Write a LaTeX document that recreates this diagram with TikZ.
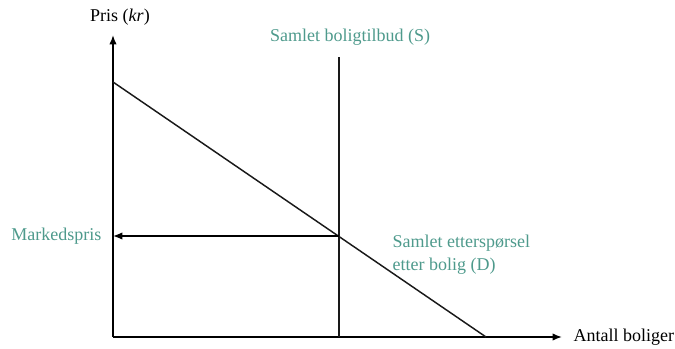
\documentclass[tikz,border=0pt]{standalone}
\usepackage{fontspec}
\setmainfont{Liberation Serif}
\usetikzlibrary{arrows.meta,positioning,calc}
\definecolor{tealtxt}{HTML}{4E9A8C}
\tikzset{
  axis/.style={-{Latex[length=7pt,width=5.5pt]}, line width=1.1pt, draw=black},
  curve/.style={line width=1.1pt, draw=black!90},
  guide/.style={-{Latex[length=7pt,width=5.5pt]}, line width=1pt, draw=black},
  lbl/.style={font=\fontsize{13.5}{17.5}\selectfont, text=tealtxt, inner sep=1pt},
  axlbl/.style={font=\fontsize{13.5}{15.5}\selectfont, text=black, inner sep=1pt},
}
\begin{document}
\begin{tikzpicture}[x=0.75pt, y=-0.75pt]
  \useasboundingbox (0,0) rectangle (675,349);
  % axes
  \coordinate (o) at (113,337);
  \coordinate (ytop) at (113,35);
  \coordinate (xend) at (562,337);
  \draw[axis] (o) -- (ytop);
  \draw[axis] (o) -- (xend);
  \node[axlbl, anchor=south] (ylab) at (120,27) {Pris (\textit{kr})};
  \node[axlbl, anchor=west] (xlab) at (572,337) {Antall boliger};
  % supply and demand
  \coordinate (stop) at (339,57);
  \coordinate (sbot) at (339,337);
  \coordinate (dtop) at (113,82);
  \coordinate (dbot) at (486,337);
  \draw[curve] (sbot) -- (stop);
  \draw[curve] (dtop) -- (dbot);
  \coordinate (eq) at (339,236);
  \coordinate (peq) at (113,236);
  \draw[guide] (eq) -- (peq);
  % labels
  \node[lbl, anchor=south] (slab) at (350,47) {Samlet boligtilbud (S)};
  \node[lbl, anchor=east] (plab) at (103,236) {Markedspris};
  \node[lbl, anchor=north west, align=left] (dlab) at (391,233)
    {Samlet etterspørsel\\etter bolig (D)};
\end{tikzpicture}
\end{document}
